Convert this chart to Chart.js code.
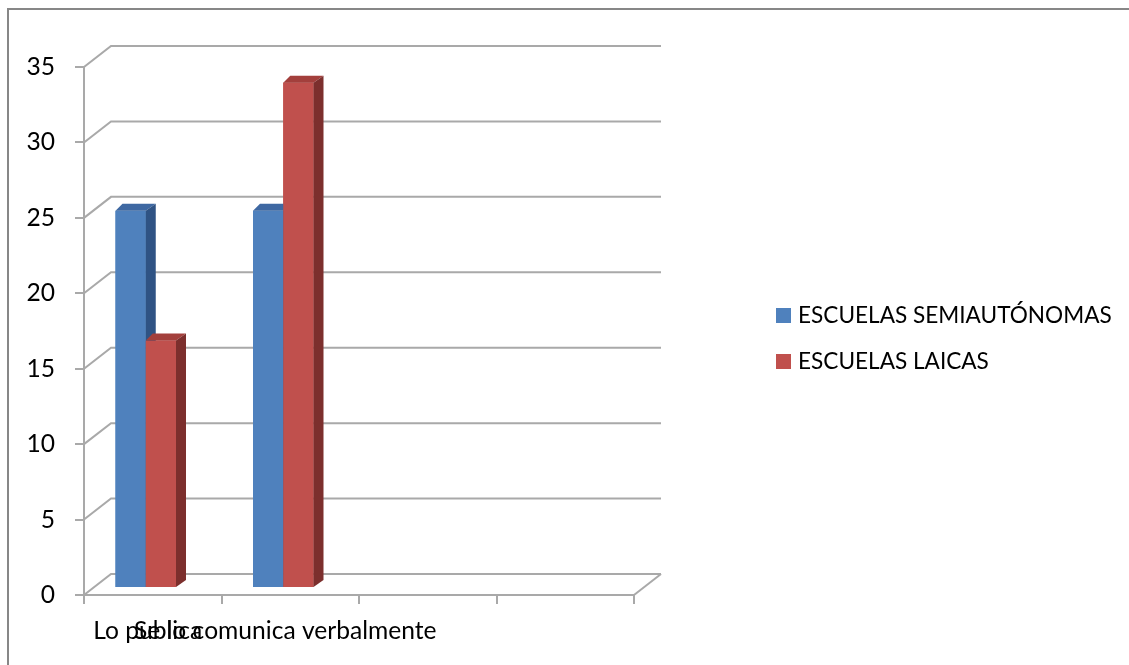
<!DOCTYPE html>
<html>
<head>
<meta charset="utf-8">
<script src="https://cdn.jsdelivr.net/npm/chart.js@4/dist/chart.umd.min.js"></script>
<style>
  html, body { margin: 0; padding: 0; background: #ffffff; }
  #wrap { width: 1129px; height: 665px; position: relative; }
</style>
</head>
<body>
<div id="wrap"><canvas id="c" width="1129" height="665"></canvas></div>
<script>
// ---- data ----
const categories = ['Lo publica', 'Se lo comunica verbalmente', '', ''];
const seriesNames = ['ESCUELAS SEMIAUTÓNOMAS', 'ESCUELAS LAICAS'];
const semiautonomas = [25, 25, null, null];
const laicas = [16.4, 33.5, null, null];
const yMin = 0, yMax = 35, yStep = 5;

// ---- styles ----
const FAMILY = 'Lato, "Open Sans", sans-serif';
function fitSize(text, target) {
  const c = document.createElement('canvas').getContext('2d');
  c.font = '100px ' + FAMILY;
  return 100 * target / c.measureText(text).width;
}
const FS = Math.round(fitSize('Se lo comunica verbalmente', 303) * 10) / 10;
const LFS = Math.round(fitSize('ESCUELAS SEMIAUTÓNOMAS', 314) * 10) / 10;
const GRID = '#a9a9a9';
const DX = 27, DY = -21;          // depth of back wall
const BOX = -7, BOY = -7;         // bar depth shift
const TOPL = 7, TOPR = 10, TOPY = -7;
const faces = [
  { front: '#4F81BD', top: '#3E68A2', side: '#2F5384' },
  { front: '#C0504D', top: '#A33F3C', side: '#7C2F2D' }
];

const scenePlugin = {
  id: 'scene',
  beforeDraw(chart) {
    const ctx = chart.ctx;
    ctx.save();
    ctx.fillStyle = '#ffffff';
    ctx.fillRect(0, 0, chart.width, chart.height);
    ctx.strokeStyle = '#878787';
    ctx.lineWidth = 2;
    ctx.strokeRect(8, 9, chart.width + 50, chart.height + 50);
    ctx.restore();
  },
  beforeDatasetsDraw(chart) {
    const ctx = chart.ctx, a = chart.chartArea, y = chart.scales.y;
    ctx.save();
    ctx.strokeStyle = GRID;
    ctx.lineWidth = 2;
    y.ticks.forEach(t => {
      const py = y.getPixelForValue(t.value);
      ctx.beginPath();
      ctx.moveTo(a.left, py);
      ctx.lineTo(a.left + DX, py + DY);
      ctx.lineTo(a.right + DX, py + DY);
      ctx.stroke();
    });
    ctx.beginPath();
    ctx.moveTo(a.right, a.bottom);
    ctx.lineTo(a.right + DX, a.bottom + DY);
    ctx.stroke();
    ctx.restore();
    ctx.save();
    ctx.translate(BOX, BOY);
  },
  afterDatasetsDraw(chart) {
    const ctx = chart.ctx;
    chart.data.datasets.forEach((ds, i) => {
      const meta = chart.getDatasetMeta(i);
      const f = faces[i];
      meta.data.forEach((bar, j) => {
        if (ds.data[j] == null) return;
        const p = bar.getProps(['x', 'y', 'base', 'width'], true);
        const L = p.x - p.width / 2, R = p.x + p.width / 2, T = p.y, B = p.base;
        ctx.fillStyle = f.front;
        ctx.fillRect(L, T, R - L, B - T);
        ctx.fillStyle = f.top;
        ctx.beginPath();
        ctx.moveTo(L, T); ctx.lineTo(R, T); ctx.lineTo(R + TOPR, T + TOPY); ctx.lineTo(L + TOPL, T + TOPY);
        ctx.closePath(); ctx.fill();
        ctx.fillStyle = f.side;
        ctx.beginPath();
        ctx.moveTo(R, T); ctx.lineTo(R + TOPR, T + TOPY); ctx.lineTo(R + TOPR, B + TOPY); ctx.lineTo(R, B);
        ctx.closePath(); ctx.fill();
      });
    });
    ctx.restore();
  },
  afterDraw(chart) {
    const ctx = chart.ctx;
    ctx.save();
    ctx.font = LFS + 'px ' + FAMILY;
    ctx.textBaseline = 'alphabetic';
    ctx.textAlign = 'left';
    const rows = [323, 369];
    seriesNames.forEach((n, i) => {
      ctx.fillStyle = faces[i].front;
      ctx.fillRect(776, rows[i] - 15, 15, 15);
      ctx.fillStyle = '#000000';
      ctx.fillText(n, 798, rows[i]);
    });
    ctx.restore();
  }
};

new Chart(document.getElementById('c'), {
  type: 'bar',
  data: {
    labels: categories,
    datasets: [
      { label: seriesNames[0], data: semiautonomas, backgroundColor: faces[0].front, barPercentage: 1, categoryPercentage: 0.44 },
      { label: seriesNames[1], data: laicas, backgroundColor: faces[1].front, barPercentage: 1, categoryPercentage: 0.44 }
    ]
  },
  options: {
    responsive: false,
    devicePixelRatio: 1,
    animation: false,
    layout: { padding: { top: 67, right: 495, bottom: 0, left: 0 } },
    plugins: { legend: { display: false }, tooltip: { enabled: false } },
    scales: {
      x: {
        grid: { offset: true, drawOnChartArea: false, drawTicks: true, tickLength: 9, color: GRID, lineWidth: 2 },
        border: { display: true, color: GRID, width: 2 },
        ticks: { font: { family: FAMILY, size: FS }, color: '#000000', maxRotation: 0, autoSkip: false, padding: 12, labelOffset: -5 },
        afterFit(s) { s.height = 70; }
      },
      y: {
        min: yMin, max: yMax,
        grid: { drawOnChartArea: false, drawTicks: true, tickLength: 9, color: GRID, lineWidth: 2 },
        border: { display: true, color: GRID, width: 2 },
        ticks: { stepSize: yStep, font: { family: FAMILY, size: FS }, color: '#000000', padding: 20 },
        afterFit(s) { s.width = 84; }
      }
    }
  },
  plugins: [scenePlugin]
});
</script>
</body>
</html>
